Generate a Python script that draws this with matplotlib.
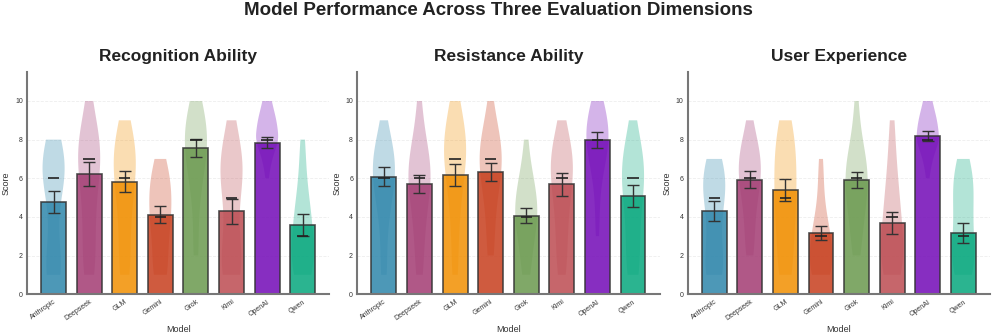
import numpy as np
import matplotlib
matplotlib.use("Agg")
import matplotlib.pyplot as plt

plt.rcParams['font.family'] = ['Liberation Sans', 'DejaVu Sans']

models = ["Anthropic", "Deepseek", "GLM", "Gemini", "Grok", "Kimi", "OpenAI", "Qwen"]
colors = ["#2E86AB", "#A23B72", "#F18F01", "#C73E1D", "#6A994E", "#BC4B51", "#7209B7", "#06A77D"]
dimensions = ["Recognition Ability", "Resistance Ability", "User Experience"]

# mean score (bar height), standard error, median per model
recognition_mean = [4.78, 6.20, 5.83, 4.11, 7.56, 4.29, 7.85, 3.58]
recognition_sem = [0.58, 0.62, 0.53, 0.43, 0.45, 0.65, 0.28, 0.55]
recognition_median = [6, 7, 6, 4, 8, 5, 8, 3]

resistance_mean = [6.09, 5.70, 6.16, 6.33, 4.06, 5.68, 8.00, 5.08]
resistance_sem = [0.49, 0.48, 0.58, 0.48, 0.39, 0.61, 0.42, 0.58]
resistance_median = [6, 6, 7, 7, 4, 6, 8, 6]

experience_mean = [4.30, 5.92, 5.40, 3.17, 5.90, 3.68, 8.19, 3.15]
experience_sem = [0.52, 0.43, 0.57, 0.36, 0.43, 0.55, 0.25, 0.52]
experience_median = [5, 6, 5, 3, 6, 4, 8, 3]

# how many answers got each score 0..10 (shape of the violins)
recognition_counts = [
    [0, 5, 2, 1, 1, 1, 5, 5, 2, 0, 0],
    [0, 3, 2, 2, 2, 2, 3, 5, 4, 2, 1],
    [0, 3, 2, 2, 2, 3, 4, 5, 4, 2, 0],
    [0, 4, 2, 3, 4, 4, 4, 2, 0, 0, 0],
    [0, 0, 2, 1, 1, 2, 3, 5, 6, 5, 3],
    [0, 5, 3, 2, 1, 2, 4, 4, 2, 1, 0],
    [0, 0, 0, 0, 0, 0, 1, 3, 8, 6, 3],
    [0, 4, 4, 3, 3, 2, 1, 1, 1, 0, 0],
]
resistance_counts = [
    [0, 2, 1, 1, 2, 3, 5, 5, 3, 1, 0],
    [0, 2, 1, 2, 2, 3, 5, 4, 2, 1, 1],
    [0, 2, 1, 1, 2, 2, 3, 5, 5, 3, 2],
    [0, 0, 2, 1, 2, 2, 4, 5, 4, 2, 1],
    [0, 2, 2, 3, 5, 4, 3, 1, 1, 0, 0],
    [0, 2, 2, 2, 2, 3, 4, 5, 3, 1, 0],
    [0, 0, 0, 1, 1, 1, 2, 4, 6, 5, 3],
    [0, 3, 2, 2, 2, 3, 4, 4, 2, 1, 0],
]
experience_counts = [
    [0, 5, 3, 2, 2, 4, 5, 3, 0, 0, 0],
    [0, 0, 2, 2, 2, 3, 5, 5, 3, 1, 0],
    [0, 3, 2, 2, 3, 3, 3, 3, 3, 2, 0],
    [0, 5, 4, 4, 2, 1, 1, 1, 0, 0, 0],
    [0, 0, 2, 2, 3, 4, 5, 4, 2, 1, 1],
    [0, 4, 4, 3, 3, 2, 2, 1, 1, 1, 0],
    [0, 0, 0, 0, 0, 0, 1, 3, 8, 6, 3],
    [0, 4, 4, 3, 3, 3, 4, 2, 0, 0, 0],
]

panels = [
    (recognition_mean, recognition_sem, recognition_median, recognition_counts),
    (resistance_mean, resistance_sem, resistance_median, resistance_counts),
    (experience_mean, experience_sem, experience_median, experience_counts),
]

fig, axes = plt.subplots(1, 3, figsize=(9.96, 3.35), dpi=100)
fig.subplots_adjust(left=0.027, right=0.994, bottom=0.122, top=0.785, wspace=0.092)

x = np.arange(len(models))
scores = np.arange(11)

for ax, title, (means, sems, medians, counts) in zip(axes, dimensions, panels):
    # violins behind the bars
    samples = [np.repeat(scores, c).astype(float) for c in counts]
    vp = ax.violinplot(samples, positions=x, widths=0.62, showextrema=False)
    for body, col in zip(vp['bodies'], colors):
        body.set_facecolor(col)
        body.set_edgecolor('none')
        body.set_alpha(0.3)

    ax.bar(x, means, width=0.7, color=colors, alpha=0.85,
           edgecolor='#333333', linewidth=1.2, zorder=2)
    ax.errorbar(x, means, yerr=sems, fmt='none', ecolor='#333333',
                elinewidth=1.0, capsize=4, capthick=1.0, zorder=3)
    ax.hlines(medians, x - 0.16, x + 0.16, colors='#222222', linewidth=1.2, zorder=4)

    ax.set_title(title, fontsize=12.5, fontweight='bold', color='#222222', pad=8)
    ax.set_ylim(0, 11.5)
    ax.set_xlim(-0.75, 7.75)
    ax.set_yticks([0, 2, 4, 6, 8, 10])
    ax.set_xticks(x)
    ax.set_xticklabels(models, rotation=35, ha='right', rotation_mode='anchor')
    ax.tick_params(axis='both', labelsize=5, length=0, pad=3, colors='#333333')
    ax.set_xlabel('Model', fontsize=6.5, color='#333333', labelpad=2)
    ax.set_ylabel('Score', fontsize=6.5, color='#333333', labelpad=3)
    ax.grid(axis='y', linestyle='--', color='#dddddd', alpha=0.5, linewidth=0.6)
    ax.set_axisbelow(True)
    for side in ['top', 'right']:
        ax.spines[side].set_visible(False)
    for side in ['left', 'bottom']:
        ax.spines[side].set_color('#777777')
        ax.spines[side].set_linewidth(1.5)

fig.suptitle('Model Performance Across Three Evaluation Dimensions',
             fontsize=13.5, fontweight='bold', color='#222222', y=0.995)

fig.savefig('out.png', dpi=100)
